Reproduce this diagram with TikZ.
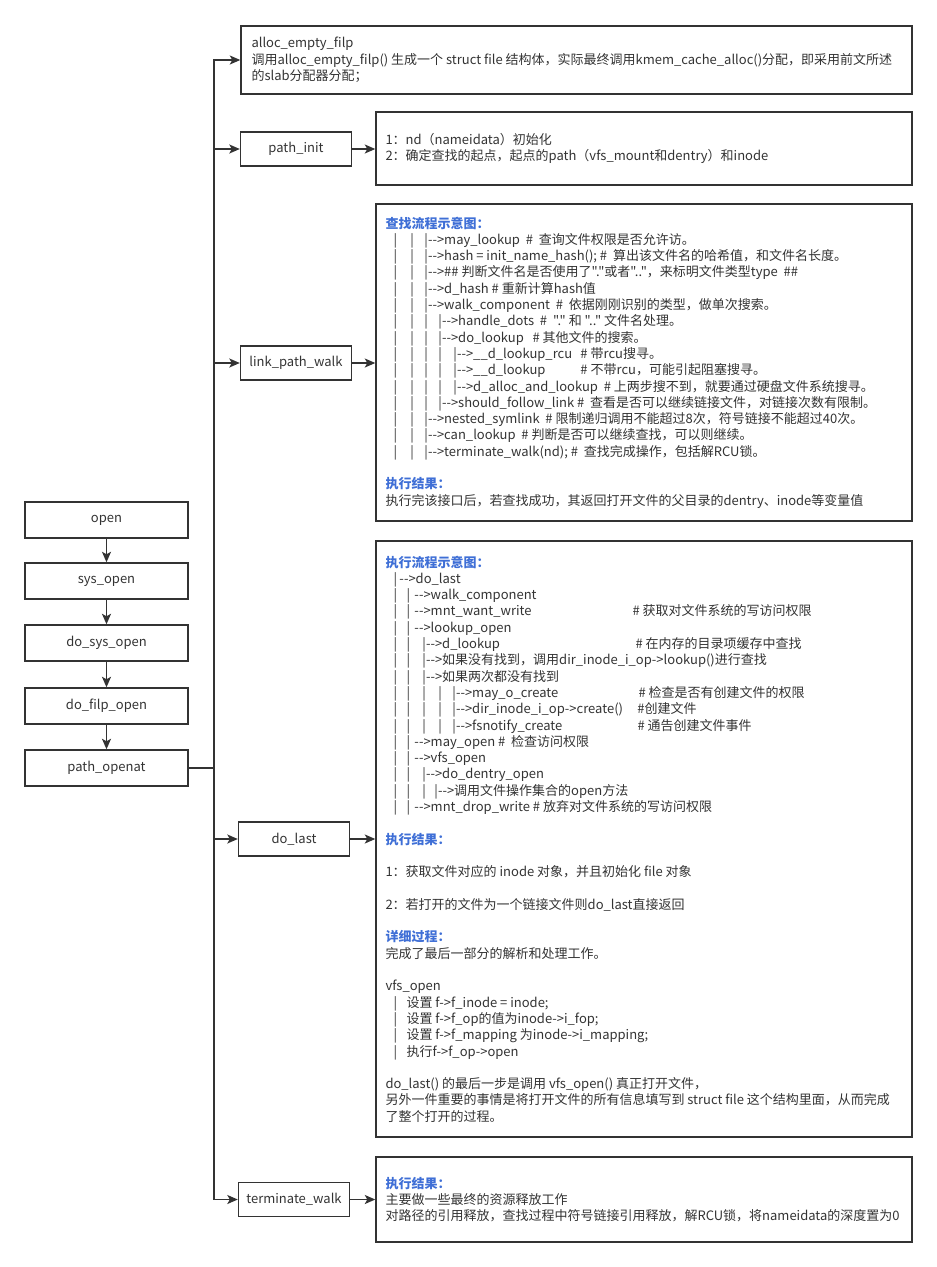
\documentclass[tikz,border=0pt]{standalone}
\usepackage{fontspec}
\setmainfont{Noto Sans CJK SC}[Ligatures=TeXOff]
\usetikzlibrary{arrows.meta}
\definecolor{ink}{HTML}{333333}
\definecolor{hdblue}{HTML}{3F6FD6}
\newcommand\arw{{-}{-}>}
\newcommand\tsk[1]{\hbox to #1pt{}}
\newcommand\tpp[1]{\hbox to #1pt{|\hss}}
\newcommand\tcol[2]{\hbox to #1pt{#2\hss}}
\newcommand\thead[1]{{\bfseries\color{hdblue}#1}}
% link_path_walk tree prefixes
\newcommand\La{\tsk{8}\tpp{17}\tpp{14}|}
\newcommand\Lb{\tsk{8}\tpp{17}\tpp{14}\tpp{14}|}
\newcommand\Lc{\tsk{8}\tpp{17}\tpp{14}\tpp{14}\tpp{15}|}
% do_last tree prefixes
\newcommand\Da{\tsk{8}\tpp{13}\tpp{8}}
\newcommand\Db{\tsk{8}\tpp{13}\tpp{16}|}
\newcommand\Dc{\tsk{8}\tpp{13}\tpp{16}\tpp{16}\tpp{14}|}
\newcommand\Dd{\tsk{8}\tpp{13}\tpp{16}\tpp{12}|}
\begin{document}
\begin{tikzpicture}[x=1pt,y=-1pt,
  font=\fontsize{13pt}{16.3pt}\selectfont, text=ink,
  fbox/.style={draw=ink, line width=1.4pt, minimum width=163pt, minimum height=36pt, inner sep=0pt},
  bbox/.style={draw=ink, line width=1.4pt, minimum width=111pt, minimum height=34pt, inner sep=0pt},
  tbox/.style={draw=ink, line width=1.4pt, inner sep=0pt},
  txt/.style={align=left, inner sep=0pt, anchor=west},
  arr/.style={draw=ink, line width=1.4pt, -{Stealth[length=10.5pt,width=9pt,inset=2.5pt]}}]
\useasboundingbox (0,0) rectangle (937,1267);

% left call chain
\node[fbox] (open) at (106.5,520) {open};
\node[fbox] (sysopen) at (106.5,581) {sys\_open};
\node[fbox] (dosysopen) at (106.5,643) {do\_sys\_open};
\node[fbox] (dofilp) at (106.5,706) {do\_filp\_open};
\node[fbox] (openat) at (106.5,768) {path\_openat};
\draw[arr] (open) -- (sysopen);
\draw[arr] (sysopen) -- (dosysopen);
\draw[arr] (dosysopen) -- (dofilp);
\draw[arr] (dofilp) -- (openat);
\coordinate (trunk) at (214,768);

% alloc_empty_filp
\node[tbox, minimum width=671pt, minimum height=68pt] (allocbox) at (576.5,60) {};
\node[txt] (alloctxt) at ([xshift=11pt]allocbox.west) {alloc\_empty\_filp\\
调用alloc\_empty\_filp() 生成一个 struct file 结构体，实际最终调用kmem\_cache\_alloc()分配，即采用前文所述\\
的slab分配器分配；};

% path_init
\node[bbox] (pinit) at (296,149) {path\_init};
\node[tbox, minimum width=536pt, minimum height=73pt] (pinitbox) at (644,148.5) {};
\node[txt] (pinittxt) at ([xshift=10pt]pinitbox.west) {1：nd（nameidata）初始化\\
2：确定查找的起点，起点的path（vfs\_mount和dentry）和inode};

% link_path_walk
\node[bbox] (lpw) at (296,363) {link\_path\_walk};
\node[tbox, minimum width=536pt, minimum height=317pt] (lpwbox) at (644,362.5) {};
\node[txt] (lpwtxt) at ([xshift=10pt]lpwbox.west) {\thead{查找流程示意图：}\\
\La\arw may\_lookup\ \ \#\ \ 查询文件权限是否允许访。\\
\La\arw hash = init\_name\_hash(); \#\ \ 算出该文件名的哈希值，和文件名长度。\\
\La\arw\#\# 判断文件名是否使用了"."或者".."，来标明文件类型type\ \ \#\#\\
\La\arw d\_hash \# 重新计算hash值\\
\La\arw walk\_component\ \ \#\ \ 依据刚刚识别的类型，做单次搜索。\\
\Lb\arw handle\_dots\ \ \#\ \ "." 和 ".." 文件名处理。\\
\Lb\arw do\_lookup\ \ \ \# 其他文件的搜索。\\
\tcol{195}{\Lc\arw\_\_d\_lookup\_rcu}\# 带rcu搜寻。\\
\tcol{195}{\Lc\arw\_\_d\_lookup}\# 不带rcu，可能引起阻塞搜寻。\\
\Lc\arw d\_alloc\_and\_lookup\ \ \# 上两步搜不到，就要通过硬盘文件系统搜寻。\\
\Lb\arw should\_follow\_link \#\ \ 查看是否可以继续链接文件，对链接次数有限制。\\
\La\arw nested\_symlink\ \ \# 限制递归调用不能超过8次，符号链接不能超过40次。\\
\La\arw can\_lookup\ \ \# 判断是否可以继续查找，可以则继续。\\
\La\arw terminate\_walk(nd); \#\ \ 查找完成操作，包括解RCU锁。\\
\mbox{}\\
\thead{执行结果：}\\
执行完该接口后，若查找成功，其返回打开文件的父目录的dentry、inode等变量值};

% do_last
\node[bbox] (dolast) at (294,839) {do\_last};
\node[tbox, minimum width=536pt, minimum height=596pt] (dlbox) at (644,839) {};
\node[txt] (dltxt) at ([xshift=10pt]dlbox.west) {\thead{执行流程示意图：}\\
\tsk{8}\tpp{6}\arw do\_last\\
\Da\arw walk\_component\\
\tcol{247}{\Da\arw mnt\_want\_write}\# 获取对文件系统的写访问权限\\
\Da\arw lookup\_open\\
\tcol{250}{\Db\arw d\_lookup}\# 在内存的目录项缓存中查找\\
\Db\arw 如果没有找到，调用dir\_inode\_i\_op->lookup()进行查找\\
\Db\arw 如果两次都没有找到\\
\tcol{253}{\Dc\arw may\_o\_create}\# 检查是否有创建文件的权限\\
\tcol{252}{\Dc\arw dir\_inode\_i\_op->create()}\#创建文件\\
\tcol{252}{\Dc\arw fsnotify\_create}\# 通告创建文件事件\\
\Da\arw may\_open \#\ \ 检查访问权限\\
\Da\arw vfs\_open\\
\Db\arw do\_dentry\_open\\
\Dd\arw 调用文件操作集合的open方法\\
\Da\arw mnt\_drop\_write \# 放弃对文件系统的写访问权限\\
\mbox{}\\
\thead{执行结果：}\\
\mbox{}\\
1：获取文件对应的 inode 对象，并且初始化 file 对象\\
\mbox{}\\
2：若打开的文件为一个链接文件则do\_last直接返回\\
\mbox{}\\
\thead{详细过程：}\\
完成了最后一部分的解析和处理工作。\\
\mbox{}\\
vfs\_open\\
\tsk{8}\tpp{13}设置 f->f\_inode = inode;\\
\tsk{8}\tpp{13}设置 f->f\_op的值为inode->i\_fop;\\
\tsk{8}\tpp{13}设置 f->f\_mapping 为inode->i\_mapping;\\
\tsk{8}\tpp{13}执行f->f\_op->open\\
\mbox{}\\
do\_last() 的最后一步是调用 vfs\_open() 真正打开文件，\\
另外一件重要的事情是将打开文件的所有信息填写到 struct file 这个结构里面，从而完成\\
了整个打开的过程。};

% terminate_walk
\node[bbox] (tw) at (294,1199.5) {terminate\_walk};
\node[tbox, minimum width=536pt, minimum height=85pt] (twbox) at (644,1199.5) {};
\node[txt] (twtxt) at ([xshift=10pt]twbox.west) {\thead{执行结果：}\\
主要做一些最终的资源释放工作\\
对路径的引用释放，查找过程中符号链接引用释放，解RCU锁，将nameidata的深度置为0};

% trunk connectors
\draw[arr] (openat.east) -- (trunk) |- (allocbox.west);
\draw[arr] (openat.east) -- (trunk) |- (pinit.west);
\draw[arr] (openat.east) -- (trunk) |- (lpw.west);
\draw[arr] (openat.east) -- (trunk) |- (dolast.west);
\draw[arr] (openat.east) -- (trunk) |- (tw.west);
% to description boxes
\draw[arr] (pinit.east) -- (pinit.east -| pinitbox.west);
\draw[arr] (lpw.east) -- (lpw.east -| lpwbox.west);
\draw[arr] (dolast.east) -- (dolast.east -| dlbox.west);
\draw[arr] (tw.east) -- (tw.east -| twbox.west);
\end{tikzpicture}
\end{document}
